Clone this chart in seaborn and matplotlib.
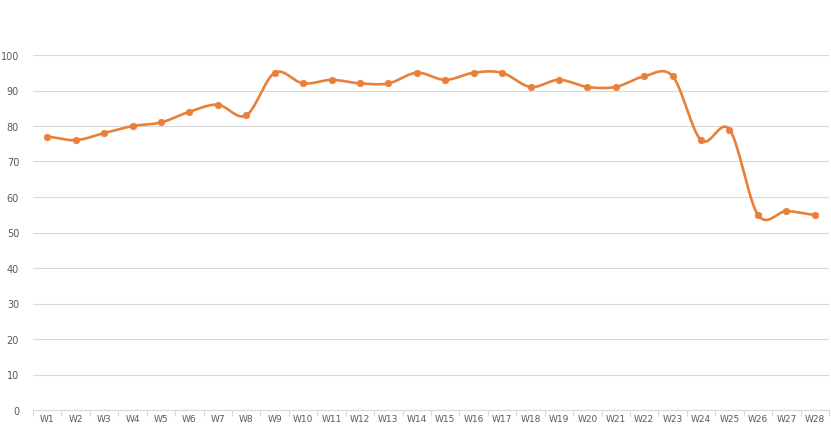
import numpy as np
import pandas as pd
import matplotlib
matplotlib.use("Agg")
import matplotlib.pyplot as plt
import seaborn as sns

# values
labels = ["W" + str(i) for i in range(1, 29)]
values = [77, 76, 78, 80, 81, 84, 86, 83, 95, 92, 93, 92, 92, 95,
          93, 95, 95, 91, 93, 91, 91, 94, 94, 76, 79, 55, 56, 55]
y_ticks = list(range(0, 101, 10))

df = pd.DataFrame({"label": labels, "value": values})
df["pos"] = np.arange(len(df))

# Excel-style smoothed line (Catmull-Rom between points)
def smooth(x, y, n=20):
    x = np.asarray(x, float)
    y = np.asarray(y, float)
    px = np.concatenate([[2 * x[0] - x[1]], x, [2 * x[-1] - x[-2]]])
    py = np.concatenate([[y[0]], y, [y[-1]]])
    xs, ys = [], []
    t = np.linspace(0, 1, n, endpoint=False)
    for i in range(1, len(px) - 2):
        p0, p1, p2, p3 = py[i - 1], py[i], py[i + 1], py[i + 2]
        q0, q1, q2, q3 = px[i - 1], px[i], px[i + 1], px[i + 2]
        f = lambda a, b, c, d: 0.5 * ((2 * b) + (-a + c) * t
                                      + (2 * a - 5 * b + 4 * c - d) * t ** 2
                                      + (-a + 3 * b - 3 * c + d) * t ** 3)
        xs.append(f(q0, q1, q2, q3))
        ys.append(f(p0, p1, p2, p3))
    xs.append([x[-1]])
    ys.append([y[-1]])
    return np.concatenate(xs), np.concatenate(ys)

sx, sy = smooth(df["pos"], df["value"])
curve = pd.DataFrame({"x": sx, "y": sy})

sns.set_theme(style="white")
orange = "#E8803A"
grid = "#D9D9D9"
txt = "#595959"

fig = plt.figure(figsize=(8.31, 4.27), dpi=100)
ax = fig.add_axes([33 / 831, 16 / 427, 796 / 831, 355 / 427])

sns.lineplot(data=curve, x="x", y="y", color=orange, linewidth=1.9,
             sort=False, ax=ax, zorder=3)
sns.scatterplot(data=df, x="pos", y="value", color=orange, s=22,
                edgecolor=orange, linewidth=0.5, ax=ax, zorder=4)

ax.set_xlim(-0.5, len(df) - 0.5)
ax.set_ylim(0, 100)
ax.set_yticks(y_ticks)
ax.set_yticklabels([str(v) for v in y_ticks], fontsize=7, color=txt)
ax.yaxis.grid(True, color=grid, linewidth=0.8)
ax.set_axisbelow(True)

ax.set_xticks(df["pos"])
ax.set_xticklabels(df["label"], fontsize=6.5, color=txt)
ax.set_xticks(np.arange(-0.5, len(df)), minor=True)
ax.tick_params(axis="x", which="major", length=0, pad=3)
ax.tick_params(axis="x", which="minor", length=4, color=grid, width=0.8,
               direction="out", bottom=True)
ax.tick_params(axis="y", length=0, pad=10)

for side in ["top", "right", "left"]:
    ax.spines[side].set_visible(False)
ax.spines["bottom"].set_color(grid)
ax.spines["bottom"].set_linewidth(0.8)
ax.set_xlabel("")
ax.set_ylabel("")

fig.savefig("out.png", dpi=100)
